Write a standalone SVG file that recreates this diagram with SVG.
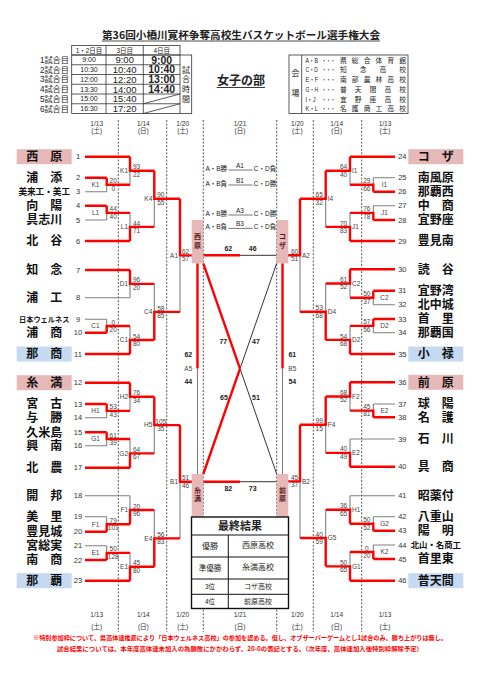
<svg xmlns="http://www.w3.org/2000/svg" width="481" height="680" viewBox="0 0 481 680">
<style>
text{font-family:"Liberation Sans","Noto Sans CJK JP",sans-serif;fill:#222}
.jp{font-family:"Noto Sans CJK JP",sans-serif}
.r{stroke:#ff0000;stroke-width:2.4;fill:none}
.g{stroke:#808080;stroke-width:1.1;fill:none}
.k{stroke:#333;stroke-width:1;fill:none}
.dash{stroke:#555;stroke-width:1;stroke-dasharray:2 1.6}
.nm{font-family:"Noto Sans CJK JP",sans-serif;font-weight:700;font-size:12px;text-anchor:middle;fill:#111}
.no{font-size:7.5px;text-anchor:middle;fill:#333}
.sc{font-size:6.5px;text-anchor:middle;fill:#444}
.lbl{font-size:6.5px;fill:#444}
.lbr{font-size:6.5px;fill:#444;text-anchor:end}
.lbm{font-size:6.5px;fill:#444;text-anchor:middle}
.pk{fill:#E6B8B7}
.bl{fill:#C5D9F1}
.tb{fill:none;stroke:#333;stroke-width:0.8}
.dt{font-size:6.5px;text-anchor:middle;fill:#333}
.bd{font-size:7px;font-weight:700;text-anchor:middle;fill:#222}
.bx{font-family:"Noto Sans CJK JP",sans-serif;font-size:7px;font-weight:700;text-anchor:middle;fill:#5a1a1a}
.fn{font-family:"Noto Sans CJK JP",sans-serif;font-size:6.2px;font-weight:700;fill:#ff0000;text-anchor:middle}
.vn{font-family:"Noto Sans CJK JP",sans-serif;font-size:6.8px}
</style>

<!-- title -->
<g id="title">
<text class="jp" x="241" y="39" font-size="10.5" font-weight="700" text-anchor="middle" textLength="278" lengthAdjust="spacingAndGlyphs">第36回小橋川寛杯争奪高校生バスケットボール選手権大会</text>
<line x1="102" y1="41" x2="380" y2="41" stroke="#222" stroke-width="0.8"/>
</g>

<!-- schedule table -->
<g id="schedule">
<rect class="tb" x="71.7" y="45.5" width="108.3" height="9.5"/>
<line class="tb" x1="106" y1="45.5" x2="106" y2="113.5"/>
<line class="tb" x1="143.3" y1="45.5" x2="143.3" y2="113.5"/>
<rect class="tb" x="71.7" y="55" width="120" height="58.5"/>
<line class="tb" x1="180" y1="55" x2="180" y2="113.5"/>
<line class="tb" x1="71.7" y1="64.75" x2="180" y2="64.75"/>
<line class="tb" x1="71.7" y1="74.5" x2="180" y2="74.5"/>
<line class="tb" x1="71.7" y1="84.25" x2="180" y2="84.25"/>
<line class="tb" x1="71.7" y1="94" x2="180" y2="94"/>
<line class="tb" x1="71.7" y1="103.75" x2="180" y2="103.75"/>
<line class="tb" x1="143.3" y1="103.75" x2="180" y2="94"/>
<line class="tb" x1="143.3" y1="113.5" x2="180" y2="103.75"/>
<g class="jp" font-size="6.5" text-anchor="middle">
<text x="89" y="52.8">1・2日目</text><text x="124.7" y="52.8">3日目</text><text x="161.7" y="52.8">4日目</text>
</g>
<g font-size="8.2" text-anchor="end">
<text x="69" y="62.8">1試合目</text><text x="69" y="72.5">2試合目</text><text x="69" y="82.3">3試合目</text>
<text x="69" y="92">4試合目</text><text x="69" y="101.8">5試合目</text><text x="69" y="111.5">6試合目</text>
</g>
<g font-size="7" text-anchor="middle">
<text x="89" y="62.4">9:00</text><text x="89" y="72.1">10:30</text><text x="89" y="81.9">12:00</text>
<text x="89" y="91.6">13:30</text><text x="89" y="101.4">15:00</text><text x="89" y="111.1">16:30</text>
</g>
<g font-size="9.5" text-anchor="middle">
<text x="124.7" y="63.3">9:00</text><text x="124.7" y="73">10:40</text><text x="124.7" y="82.8">12:20</text>
<text x="124.7" y="92.5">14:00</text><text x="124.7" y="102.3">15:40</text><text x="124.7" y="112">17:20</text>
</g>
<g font-size="10.5" font-weight="700" text-anchor="middle">
<text x="161.7" y="63.7">9:00</text><text x="161.7" y="73.4">10:40</text><text x="161.7" y="83.2">13:00</text>
<text x="161.7" y="92.9">14:40</text>
</g>
<g class="jp" font-size="8" text-anchor="middle">
<text x="186" y="72.5">試</text><text x="186" y="82.3">合</text><text x="186" y="92">時</text><text x="186" y="101.8">間</text>
</g>
</g>

<!-- division -->
<g id="division">
<text class="jp" x="241" y="85" font-size="12" font-weight="700" text-anchor="middle">女子の部</text>
<line x1="216.7" y1="87.5" x2="265" y2="87.5" stroke="#222" stroke-width="0.9"/>
</g>

<!-- venue table -->
<g id="venues">
<rect class="tb" x="289" y="55" width="119" height="58.5"/>
<line class="tb" x1="301.7" y1="55" x2="301.7" y2="113.5"/>
<g class="jp" font-size="8" text-anchor="middle"><text x="295.4" y="76">会</text><text x="295.4" y="96">場</text></g>
<g class="vn">
<text x="305.5" y="62.5" textLength="12.5" lengthAdjust="spacingAndGlyphs">A・B</text><text x="322" y="62.5" textLength="13" lengthAdjust="spacingAndGlyphs">・・・</text><text x="340" y="62.5" textLength="66" lengthAdjust="spacing">県総合体育館</text>
<text x="305.5" y="72.2" textLength="12.5" lengthAdjust="spacingAndGlyphs">C・D</text><text x="322" y="72.2" textLength="13" lengthAdjust="spacingAndGlyphs">・・・</text><text x="340" y="72.2" textLength="66" lengthAdjust="spacing">知念高校</text>
<text x="305.5" y="82" textLength="12.5" lengthAdjust="spacingAndGlyphs">E・F</text><text x="322" y="82" textLength="13" lengthAdjust="spacingAndGlyphs">・・・</text><text x="340" y="82" textLength="66" lengthAdjust="spacing">南部農林高校</text>
<text x="305.5" y="91.7" textLength="12.5" lengthAdjust="spacingAndGlyphs">G・H</text><text x="322" y="91.7" textLength="13" lengthAdjust="spacingAndGlyphs">・・・</text><text x="340" y="91.7" textLength="66" lengthAdjust="spacing">普天間高校</text>
<text x="305.5" y="101.5" textLength="10" lengthAdjust="spacingAndGlyphs">I・J</text><text x="322" y="101.5" textLength="13" lengthAdjust="spacingAndGlyphs">・・・</text><text x="340" y="101.5" textLength="66" lengthAdjust="spacing">宜野座高校</text>
<text x="305.5" y="111.2" textLength="12.5" lengthAdjust="spacingAndGlyphs">K・L</text><text x="322" y="111.2" textLength="13" lengthAdjust="spacingAndGlyphs">・・・</text><text x="340" y="111.2" textLength="66" lengthAdjust="spacing">名護商工高校</text>
</g>
</g>

<!-- dates -->
<g id="dates" class="jp">
<text class="dt" x="96.7" y="125.6">1/13</text><text class="dt" x="96.7" y="133">(土)</text>
<text class="dt" x="143.3" y="125.6">1/14</text><text class="dt" x="143.3" y="133">(日)</text>
<text class="dt" x="182.7" y="125.6">1/20</text><text class="dt" x="182.7" y="133">(土)</text>
<text class="dt" x="240" y="125.6">1/21</text><text class="dt" x="240" y="133">(日)</text>
<text class="dt" x="297.3" y="125.6">1/20</text><text class="dt" x="297.3" y="133">(土)</text>
<text class="dt" x="336.7" y="125.6">1/14</text><text class="dt" x="336.7" y="133">(日)</text>
<text class="dt" x="385" y="125.6">1/13</text><text class="dt" x="385" y="133">(土)</text>
<text class="dt" x="96.7" y="617.3">1/13</text><text class="dt" x="96.7" y="629">(土)</text>
<text class="dt" x="143.3" y="617.3">1/14</text><text class="dt" x="143.3" y="629">(日)</text>
<text class="dt" x="182.7" y="617.3">1/20</text><text class="dt" x="182.7" y="629">(土)</text>
<text class="dt" x="240" y="617.3">1/21</text><text class="dt" x="240" y="629">(日)</text>
<text class="dt" x="297.3" y="617.3">1/20</text><text class="dt" x="297.3" y="629">(土)</text>
<text class="dt" x="336.7" y="617.3">1/14</text><text class="dt" x="336.7" y="629">(日)</text>
<text class="dt" x="385" y="617.3">1/13</text><text class="dt" x="385" y="629">(土)</text>
</g>

<!-- day separators -->
<g id="separators">
<line class="dash" x1="118.3" y1="120" x2="118.3" y2="632"/>
<line class="dash" x1="166.7" y1="120" x2="166.7" y2="632"/>
<line class="dash" x1="203.3" y1="120" x2="203.3" y2="632"/>
<line class="dash" x1="276.7" y1="120" x2="276.7" y2="632"/>
<line class="dash" x1="313.3" y1="120" x2="313.3" y2="632"/>
<line class="dash" x1="361.7" y1="120" x2="361.7" y2="632"/>
</g>

<!-- connectors -->
<g id="connectors">
<path class="g" d="M85 191.7H106.7M85 220H106.7M85 297.7H130M85 319.3H106.7M85 417.7H106.7M85 445.7H106.7M85 495.7H130M85 516.7H106.7M85 545.7H106.7
M106.7 184.7V191.7M106.7 212.85V220M106.7 319.3V326M106.7 410.85V417.7M106.7 439V445.7M106.7 516.7V524.2M106.7 545.7V552.85
M130 170.7V184.7M130 212.85V226.9M130 283.85V297.7M130 326V340M130 396.8V410.85M130 439V453.35M130 495.7V509.95M130 552.85V566.8
M154.3 198.8V226.9M154.3 283.85V311.9M154.3 425.1V453.35M154.3 509.95V538.4
M180 255.35V311.9M180 481.75V538.4"/>
<path class="r" d="M85 156.7H130M85 177.7H106.7M85 205.7H106.7M85 241H130M85 270H130M85 332.7H106.7M85 354H130M85 382.7H130M85 404H106.7M85 432.3H106.7M85 467.7H130M85 531.7H106.7M85 560H106.7M85 580.7H130
M106.7 177.7V184.7H130M106.7 205.7V212.85H130M106.7 332.7V326H130M106.7 404V410.85H130M106.7 432.3V439H130M106.7 531.7V524.2H130M106.7 560V552.85H130
M130 156.7V170.7H154.3M130 241V226.9H154.3M130 270V283.85H154.3M130 354V340H154.3M130 382.7V396.8H154.3M130 467.7V453.35H154.3M130 524.2V509.95H154.3M130 580.7V566.8H154.3
M154.3 170.7V198.8H180M154.3 340V311.9H180M154.3 396.8V425.1H180M154.3 566.8V538.4H180
M180 198.8V255.35H192M180 425.1V481.75H192"/>
<path class="g" d="M395 177.7H373.3M395 205.7H373.3M395 304.7H373.3M395 332.7H373.3M395 404H373.3M395 439H350M395 495.7H350M395 516.7H373.3M395 545H373.3
M373.3 177.7V184.7M373.3 205.7V212.85M373.3 297.7V304.7M373.3 325.85V332.7M373.3 404V410.65M373.3 516.7V523.7M373.3 545V552
M350 170.7V184.7M350 212.85V226.9M350 283.5V297.7M350 325.85V339.9M350 396.5V410.65M350 439V452.85M350 495.7V509.7M350 552V566.35
M325.7 198.8V226.9M325.7 283.5V311.7M325.7 424.7V452.85M325.7 509.7V538
M300 255.25V311.7M300 481.35V538"/>
<path class="r" d="M395 156.7H350M395 191.7H373.3M395 220H373.3M395 241H350M395 269.3H350M395 290.7H373.3M395 319H373.3M395 354H350M395 382.3H350M395 417.3H373.3M395 466.7H350M395 530.7H373.3M395 559H373.3M395 580.7H350
M373.3 191.7V184.7H350M373.3 220V212.85H350M373.3 290.7V297.7H350M373.3 319V325.85H350M373.3 417.3V410.65H350M373.3 530.7V523.7H350M373.3 559V552H350
M350 156.7V170.7H325.7M350 241V226.9H325.7M350 269.3V283.5H325.7M350 354V339.9H325.7M350 382.3V396.5H325.7M350 466.7V452.85H325.7M350 523.7V509.7H325.7M350 580.7V566.35H325.7
M325.7 170.7V198.8H300M325.7 339.9V311.7H300M325.7 396.5V424.7H300M325.7 566.35V538H300
M300 198.8V255.25H288M300 424.7V481.35H288"/>
<path class="g" d="M197.5 368.6V474M282.5 368.6V474"/>
<path class="k" d="M240 255.3H276.7M240 481.7H276.7M240 368.65L276.7 474M276.7 263.3L240 368.65"/>
<path class="r" d="M197.5 263.3V368.6M282.5 263.3V368.6M203.3 255.3H240M203.3 481.7H240M203.3 263.3L240 368.65M240 368.65L203.3 474"/>
<g stroke="#555" stroke-width="0.8">
<line x1="228.3" y1="170" x2="252.7" y2="170"/>
<line x1="228.3" y1="185" x2="252.7" y2="185"/>
<line x1="228.3" y1="215" x2="252.7" y2="215"/>
<line x1="228.3" y1="228.4" x2="252.7" y2="228.4"/>
</g>
</g>

<!-- match labels and scores -->
<g id="scores">
<text class="lbm" x="95.5" y="187">K1</text><text class="sc" x="113.2" y="183.3">20</text><text class="sc" x="113.2" y="190.5">0</text>
<text class="lbm" x="95.5" y="215.15">L1</text><text class="sc" x="113.2" y="211.45">44</text><text class="sc" x="113.2" y="218.65">40</text>
<text class="lbm" x="95.5" y="328.3">C1</text><text class="sc" x="113.2" y="324.6">0</text><text class="sc" x="113.2" y="331.8">20</text>
<text class="lbm" x="95.5" y="413.15">H1</text><text class="sc" x="113.2" y="409.45">53</text><text class="sc" x="113.2" y="416.65">43</text>
<text class="lbm" x="95.5" y="441.3">G1</text><text class="sc" x="113.2" y="437.6">61</text><text class="sc" x="113.2" y="444.8">39</text>
<text class="lbm" x="95.5" y="526.5">F1</text><text class="sc" x="113.2" y="522.8">79</text><text class="sc" x="113.2" y="530">101</text>
<text class="lbm" x="95.5" y="555.15">E1</text><text class="sc" x="113.2" y="551.45">50</text><text class="sc" x="113.2" y="558.65">128</text>
<text class="lbr" x="128" y="173">K1</text><text class="sc" x="136.5" y="169.3">93</text><text class="sc" x="136.5" y="176.5">22</text>
<text class="lbr" x="128" y="229.2">L1</text><text class="sc" x="136.5" y="225.5">44</text><text class="sc" x="136.5" y="232.7">71</text>
<text class="lbr" x="128" y="286.15">D1</text><text class="sc" x="136.5" y="282.45">96</text><text class="sc" x="136.5" y="289.65">20</text>
<text class="lbr" x="128" y="342.3">C1</text><text class="sc" x="136.5" y="338.6">54</text><text class="sc" x="136.5" y="345.8">80</text>
<text class="lbr" x="128" y="399.1">H2</text><text class="sc" x="136.5" y="395.4">76</text><text class="sc" x="136.5" y="402.6">34</text>
<text class="lbr" x="128" y="455.65">G2</text><text class="sc" x="136.5" y="451.95">64</text><text class="sc" x="136.5" y="459.15">67</text>
<text class="lbr" x="128" y="512.25">F1</text><text class="sc" x="136.5" y="508.55">20</text><text class="sc" x="136.5" y="515.75">96</text>
<text class="lbr" x="128" y="569.1">E1</text><text class="sc" x="136.5" y="565.4">45</text><text class="sc" x="136.5" y="572.6">80</text>
<text class="lbr" x="152.3" y="201.1">K4</text><text class="sc" x="160.8" y="197.4">90</text><text class="sc" x="160.8" y="204.6">55</text>
<text class="lbr" x="152.3" y="314.2">C4</text><text class="sc" x="160.8" y="310.5">58</text><text class="sc" x="160.8" y="317.7">85</text>
<text class="lbr" x="152.3" y="427.4">H5</text><text class="sc" x="160.8" y="423.7">105</text><text class="sc" x="160.8" y="430.9">35</text>
<text class="lbr" x="152.3" y="540.7">E4</text><text class="sc" x="160.8" y="537">56</text><text class="sc" x="160.8" y="544.2">83</text>
<text class="lbr" x="178" y="257.65">A1</text><text class="sc" x="185.5" y="253.95">62</text><text class="sc" x="185.5" y="261.15">57</text>
<text class="lbr" x="178" y="484.05">B1</text><text class="sc" x="185.5" y="480.35">51</text><text class="sc" x="185.5" y="487.55">46</text>
<text class="lbm" x="384.5" y="187">I1</text><text class="sc" x="366.8" y="183.3">29</text><text class="sc" x="366.8" y="190.5">66</text>
<text class="lbm" x="384.5" y="215.15">J1</text><text class="sc" x="366.8" y="211.45">76</text><text class="sc" x="366.8" y="218.65">78</text>
<text class="lbm" x="384.5" y="300">C2</text><text class="sc" x="366.8" y="296.3">50</text><text class="sc" x="366.8" y="303.5">37</text>
<text class="lbm" x="384.5" y="328.15">D2</text><text class="sc" x="366.8" y="324.45">57</text><text class="sc" x="366.8" y="331.65">56</text>
<text class="lbm" x="384.5" y="412.95">E2</text><text class="sc" x="366.8" y="409.25">45</text><text class="sc" x="366.8" y="416.45">81</text>
<text class="lbm" x="384.5" y="526">G2</text><text class="sc" x="366.8" y="522.3">50</text><text class="sc" x="366.8" y="529.5">52</text>
<text class="lbm" x="384.5" y="554.3">K2</text><text class="sc" x="366.8" y="550.6">0</text><text class="sc" x="366.8" y="557.8">20</text>
<text class="lbl" x="352" y="173">I1</text><text class="sc" x="343.5" y="169.3">64</text><text class="sc" x="343.5" y="176.5">40</text>
<text class="lbl" x="352" y="229.2">J1</text><text class="sc" x="343.5" y="225.5">70</text><text class="sc" x="343.5" y="232.7">83</text>
<text class="lbl" x="352" y="285.8">C2</text><text class="sc" x="343.5" y="282.1">61</text><text class="sc" x="343.5" y="289.3">52</text>
<text class="lbl" x="352" y="342.2">D2</text><text class="sc" x="343.5" y="338.5">54</text><text class="sc" x="343.5" y="345.7">68</text>
<text class="lbl" x="352" y="398.8">F2</text><text class="sc" x="343.5" y="395.1">68</text><text class="sc" x="343.5" y="402.3">52</text>
<text class="lbl" x="352" y="455.15">E2</text><text class="sc" x="343.5" y="451.45">40</text><text class="sc" x="343.5" y="458.65">49</text>
<text class="lbl" x="352" y="512">H1</text><text class="sc" x="343.5" y="508.3">36</text><text class="sc" x="343.5" y="515.5">65</text>
<text class="lbl" x="352" y="568.65">G1</text><text class="sc" x="343.5" y="564.95">50</text><text class="sc" x="343.5" y="572.15">65</text>
<text class="lbl" x="327.7" y="201.1">I4</text><text class="sc" x="319.2" y="197.4">65</text><text class="sc" x="319.2" y="204.6">32</text>
<text class="lbl" x="327.7" y="314">D4</text><text class="sc" x="319.2" y="310.3">53</text><text class="sc" x="319.2" y="317.5">68</text>
<text class="lbl" x="327.7" y="427">F4</text><text class="sc" x="319.2" y="423.3">99</text><text class="sc" x="319.2" y="430.5">15</text>
<text class="lbl" x="327.7" y="540.3">G5</text><text class="sc" x="319.2" y="536.6">40</text><text class="sc" x="319.2" y="543.8">59</text>
<text class="lbl" x="302" y="257.55">A2</text><text class="sc" x="294.5" y="253.85">60</text><text class="sc" x="294.5" y="261.05">51</text>
<text class="lbl" x="302" y="483.65">B2</text><text class="sc" x="294.5" y="479.95">45</text><text class="sc" x="294.5" y="487.15">37</text>
<text class="bd" x="228.3" y="250.8">62</text><text class="bd" x="252.7" y="250.8">46</text>
<text class="bd" x="223.3" y="343.5">77</text><text class="bd" x="256" y="343.5">47</text>
<text class="bd" x="224" y="400.2">65</text><text class="bd" x="256" y="400.2">51</text>
<text class="bd" x="228.3" y="491.2">82</text><text class="bd" x="252.7" y="491.2">73</text>
<text class="bd" x="188.3" y="356.8">62</text><text class="lbm" x="188.3" y="370.8">A5</text><text class="bd" x="188.3" y="384.2">44</text>
<text class="bd" x="292.3" y="356.8">61</text><text class="lbm" x="292.3" y="370.8">B5</text><text class="bd" x="292.3" y="384.2">54</text>
<g class="jp" font-size="6.5" text-anchor="middle" fill="#333">
<text x="216.3" y="170.6">A・B勝</text><text x="240" y="168">A1</text><text x="265" y="170.6">C・D負</text>
<text x="216.3" y="185.6">A・B負</text><text x="240" y="183">B1</text><text x="265" y="185.6">C・D勝</text>
<text x="216.3" y="215.6">A・B勝</text><text x="240" y="213">A3</text><text x="265" y="215.6">C・D勝</text>
<text x="216.3" y="229">A・B負</text><text x="240" y="226.4">B3</text><text x="265" y="229">C・D負</text>
</g>
</g>

<!-- semifinal boxes -->
<g id="sf-nishihara"><rect class="pk" x="191.7" y="220" width="11.6" height="43.3"/><text class="bx" x="197.5" y="239.2">西</text><text class="bx" x="197.5" y="247.5">原</text></g>
<g id="sf-koza"><rect class="pk" x="276.7" y="220" width="11.6" height="43.3"/><text class="bx" x="282.5" y="239.2">コ</text><text class="bx" x="282.5" y="247.5">ザ</text></g>
<g id="sf-itoman"><rect class="pk" x="191.7" y="474" width="11.6" height="43.3"/><text class="bx" x="197.5" y="492.5">糸</text><text class="bx" x="197.5" y="500.8">満</text></g>
<g id="sf-maehara"><rect class="pk" x="276.7" y="474" width="11.6" height="43.3"/><text class="bx" x="282.5" y="492.5">前</text><text class="bx" x="282.5" y="500.8">原</text></g>

<!-- final results -->
<g id="final-results">
<rect x="191.5" y="517" width="97" height="91.5" fill="#fff" stroke="#111" stroke-width="1.4"/>
<line x1="191.5" y1="535" x2="288.5" y2="535" stroke="#111" stroke-width="1"/>
<line x1="191.5" y1="557" x2="288.5" y2="557" stroke="#111" stroke-width="1"/>
<line x1="191.5" y1="579" x2="288.5" y2="579" stroke="#111" stroke-width="1"/>
<line x1="191.5" y1="594.3" x2="288.5" y2="594.3" stroke="#111" stroke-width="1"/>
<line x1="228.3" y1="535" x2="228.3" y2="608.5" stroke="#111" stroke-width="1"/>
<text class="jp" x="240" y="530" font-size="11" font-weight="700" text-anchor="middle">最終結果</text>
<g class="jp" text-anchor="middle">
<text x="210" y="549" font-size="8">優勝</text><text x="258" y="548" font-size="8">西原高校</text>
<text x="210" y="571" font-size="7.5">準優勝</text><text x="258" y="570" font-size="8">糸満高校</text>
<text x="210" y="589.3" font-size="6.5">3位</text><text x="258" y="589" font-size="7">コザ高校</text>
<text x="210" y="604" font-size="6.5">4位</text><text x="258" y="603.5" font-size="7">前原高校</text>
</g>
</g>

<!-- teams left -->
<g id="t1"><rect class="pk" x="16.7" y="149.2" width="55" height="15"/><text class="nm" x="44.2" y="161">西　原</text><text class="no" x="78" y="159.4">1</text></g>
<g id="t2"><text class="nm" x="44.2" y="182">浦　添</text><text class="no" x="78" y="180.4">2</text></g>
<g id="t3"><text class="nm" x="44.2" y="195" style="font-size:8.6px">美来工・美工</text><text class="no" x="78" y="194.4">3</text></g>
<g id="t4"><text class="nm" x="44.2" y="210">向　陽</text><text class="no" x="78" y="208.4">4</text></g>
<g id="t5"><text class="nm" x="44.2" y="224.3">具志川</text><text class="no" x="78" y="222.7">5</text></g>
<g id="t6"><text class="nm" x="44.2" y="245.3">北　谷</text><text class="no" x="78" y="243.7">6</text></g>
<g id="t7"><text class="nm" x="44.2" y="274.3">知　念</text><text class="no" x="78" y="272.7">7</text></g>
<g id="t8"><text class="nm" x="44.2" y="302">浦　工</text><text class="no" x="78" y="300.4">8</text></g>
<g id="t9"><text class="nm" x="44.2" y="322" style="font-size:7.2px">日本ウェルネス</text><text class="no" x="78" y="322">9</text></g>
<g id="t10"><text class="nm" x="44.2" y="337">浦　商</text><text class="no" x="78" y="335.4">10</text></g>
<g id="t11"><rect class="bl" x="16.7" y="346.5" width="55" height="15"/><text class="nm" x="44.2" y="358.3">那　商</text><text class="no" x="78" y="356.7">11</text></g>
<g id="t12"><rect class="pk" x="16.7" y="375.2" width="55" height="15"/><text class="nm" x="44.2" y="387">糸　満</text><text class="no" x="78" y="385.4">12</text></g>
<g id="t13"><text class="nm" x="44.2" y="408.3">宮　古</text><text class="no" x="78" y="406.7">13</text></g>
<g id="t14"><text class="nm" x="44.2" y="422">与　勝</text><text class="no" x="78" y="420.4">14</text></g>
<g id="t15"><text class="nm" x="44.2" y="436.6">久米島</text><text class="no" x="78" y="435">15</text></g>
<g id="t16"><text class="nm" x="44.2" y="450">興　南</text><text class="no" x="78" y="448.4">16</text></g>
<g id="t17"><text class="nm" x="44.2" y="472">北　農</text><text class="no" x="78" y="470.4">17</text></g>
<g id="t18"><text class="nm" x="44.2" y="500">開　邦</text><text class="no" x="78" y="498.4">18</text></g>
<g id="t19"><text class="nm" x="44.2" y="521">美　里</text><text class="no" x="78" y="519.4">19</text></g>
<g id="t20"><text class="nm" x="44.2" y="536">豊見城</text><text class="no" x="78" y="534.4">20</text></g>
<g id="t21"><text class="nm" x="44.2" y="550">宮総実</text><text class="no" x="78" y="548.4">21</text></g>
<g id="t22"><text class="nm" x="44.2" y="564.3">南　商</text><text class="no" x="78" y="562.7">22</text></g>
<g id="t23"><rect class="bl" x="16.7" y="573.2" width="55" height="15"/><text class="nm" x="44.2" y="585">那　覇</text><text class="no" x="78" y="583.4">23</text></g>

<!-- teams right -->
<g id="t24"><rect class="pk" x="408.3" y="149.2" width="55" height="15"/><text class="nm" x="435.8" y="161">コ　ザ</text><text class="no" x="402.3" y="159.4">24</text></g>
<g id="t25"><text class="nm" x="435.8" y="182">南風原</text><text class="no" x="402.3" y="180.4">25</text></g>
<g id="t26"><text class="nm" x="435.8" y="196">那覇西</text><text class="no" x="402.3" y="194.4">26</text></g>
<g id="t27"><text class="nm" x="435.8" y="210">中　商</text><text class="no" x="402.3" y="208.4">27</text></g>
<g id="t28"><text class="nm" x="435.8" y="224.3">宜野座</text><text class="no" x="402.3" y="222.7">28</text></g>
<g id="t29"><text class="nm" x="435.8" y="245.3">豊見南</text><text class="no" x="402.3" y="243.7">29</text></g>
<g id="t30"><text class="nm" x="435.8" y="273.6">読　谷</text><text class="no" x="402.3" y="272">30</text></g>
<g id="t31"><text class="nm" x="435.8" y="295">宜野湾</text><text class="no" x="402.3" y="293.4">31</text></g>
<g id="t32"><text class="nm" x="435.8" y="309">北中城</text><text class="no" x="402.3" y="307.4">32</text></g>
<g id="t33"><text class="nm" x="435.8" y="323.3">首　里</text><text class="no" x="402.3" y="321.7">33</text></g>
<g id="t34"><text class="nm" x="435.8" y="337">那覇国</text><text class="no" x="402.3" y="335.4">34</text></g>
<g id="t35"><rect class="bl" x="408.3" y="346.5" width="55" height="15"/><text class="nm" x="435.8" y="358.3">小　禄</text><text class="no" x="402.3" y="356.7">35</text></g>
<g id="t36"><rect class="pk" x="408.3" y="374.8" width="55" height="15"/><text class="nm" x="435.8" y="386.6">前　原</text><text class="no" x="402.3" y="385">36</text></g>
<g id="t37"><text class="nm" x="435.8" y="408.3">球　陽</text><text class="no" x="402.3" y="406.7">37</text></g>
<g id="t38"><text class="nm" x="435.8" y="421.6">名　護</text><text class="no" x="402.3" y="420">38</text></g>
<g id="t39"><text class="nm" x="435.8" y="443.3">石　川</text><text class="no" x="402.3" y="441.7">39</text></g>
<g id="t40"><text class="nm" x="435.8" y="471">具　商</text><text class="no" x="402.3" y="469.4">40</text></g>
<g id="t41"><text class="nm" x="435.8" y="500">昭薬付</text><text class="no" x="402.3" y="498.4">41</text></g>
<g id="t42"><text class="nm" x="435.8" y="521">八重山</text><text class="no" x="402.3" y="519.4">42</text></g>
<g id="t43"><text class="nm" x="435.8" y="535">陽　明</text><text class="no" x="402.3" y="533.4">43</text></g>
<g id="t44"><text class="nm" x="435.8" y="548" style="font-size:8.4px">北山・名商工</text><text class="no" x="402.3" y="547.7">44</text></g>
<g id="t45"><text class="nm" x="435.8" y="563.3">首里東</text><text class="no" x="402.3" y="561.7">45</text></g>
<g id="t46"><rect class="bl" x="408.3" y="573.2" width="55" height="15"/><text class="nm" x="435.8" y="585">普天間</text><text class="no" x="402.3" y="583.4">46</text></g>

<!-- footnote -->
<g id="footnote">
<text class="fn" x="240" y="639.8" textLength="414" lengthAdjust="spacingAndGlyphs">※特別参加枠について、県高体連推薦により「日本ウェルネス高校」の参加を認める。但し、オブザーバーゲームとし1試合のみ、勝ち上がりは無し。</text>
<text class="fn" x="240" y="651.2" textLength="366" lengthAdjust="spacingAndGlyphs">試合結果については、本年度高体連未加入の為勝敗にかかわらず、20-0の表記とする。（次年度、高体連加入後特別枠解除予定）</text>
</g>
</svg>
